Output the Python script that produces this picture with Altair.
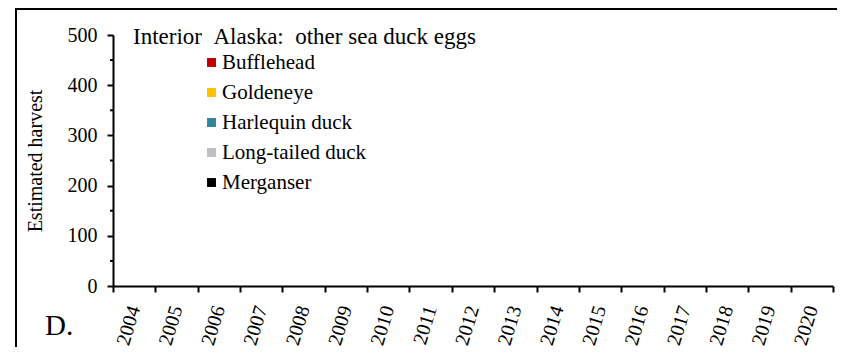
import altair as alt
import pandas as pd

years = [str(y) for y in range(2004, 2021)]
species = ["Bufflehead", "Goldeneye", "Harlequin duck", "Long-tailed duck", "Merganser"]
colors = ["#C00000", "#FFC000", "#31859C", "#BFBFBF", "#000000"]
# Estimated harvest: no eggs reported for any species/year (all zero)
harvest = {s: [0] * len(years) for s in species}
major_ticks = [0, 100, 200, 300, 400, 500]
minor_ticks = [50, 150, 250, 350, 450]

rows = []
for s in species:
    for y, v in zip(years, harvest[s]):
        rows.append({"Year": y, "Species": s, "Harvest": v})
df = pd.DataFrame(rows)

FONT = "'Liberation Serif', 'Times New Roman', serif"
W, H = 720, 251
NB = "\u00a0"

yscale = alt.Scale(domain=[0, 500])
yaxis = alt.Axis(values=major_ticks, labelFont=FONT,
                 labelFontSize=20, labelColor="black", tickSize=6,
                 tickWidth=2, tickColor="black", domainColor="black",
                 domainWidth=2, grid=False, titleFont=FONT,
                 titleFontSize=20, titleFontWeight="normal",
                 titleColor="black", titlePadding=22, labelPadding=10)

bars = alt.Chart(df).mark_bar().encode(
    x=alt.X("Year:N", sort=years, title=None,
            scale=alt.Scale(paddingInner=0, paddingOuter=0),
            axis=alt.Axis(labelAngle=287, labelFont=FONT, labelFontSize=20,
                          labelColor="black", tickBand="extent", tickSize=6,
                          tickColor="black", domainColor="black", domainWidth=2,
                          tickWidth=2, labelPadding=14, labelAlign="right",
                          labelBaseline="middle", grid=False)),
    y=alt.Y("Harvest:Q", stack="zero", scale=yscale,
            title="Estimated harvest", axis=yaxis),
    color=alt.Color("Species:N", sort=species,
                    scale=alt.Scale(domain=species, range=colors),
                    legend=alt.Legend(orient="none", legendX=88, legendY=17,
                                      title=None, symbolType="square",
                                      symbolSize=80, symbolStrokeWidth=0,
                                      labelFont=FONT, labelFontSize=21,
                                      labelColor="black", rowPadding=8,
                                      labelLimit=400,
                                      symbolOffset=0, labelOffset=0)),
)

minor = alt.Chart(pd.DataFrame({"v": minor_ticks})).mark_rule(
    color="black", strokeWidth=2
).encode(
    y=alt.Y("v:Q", scale=yscale, title="Estimated harvest", axis=yaxis),
    x=alt.value(-3), x2=alt.value(0),
)

title = alt.Chart(pd.DataFrame({"t": ["Interior" + NB + NB + "Alaska:" + NB + NB + "other sea duck eggs"]})).mark_text(
    font=FONT, fontSize=23, align="left", baseline="alphabetic", color="black"
).encode(text="t:N", x=alt.value(20), y=alt.value(9))

dlabel = alt.Chart(pd.DataFrame({"t": ["D."]})).mark_text(
    font=FONT, fontSize=29, align="left", baseline="alphabetic", color="black"
).encode(text="t:N", x=alt.value(-68), y=alt.value(300))

border = alt.Chart(pd.DataFrame({"a": [1]})).mark_rect(
    fill=None, stroke="black", strokeWidth=2
).encode(x=alt.value(-97), x2=alt.value(800), y=alt.value(-26), y2=alt.value(400))

chart = alt.layer(bars, minor, title, dlabel, border).properties(
    width=W, height=H,
    autosize=alt.AutoSizeParams(type="none"),
    padding={"left": 105, "top": 27, "right": 4, "bottom": 61},
).configure(
    background="white", font=FONT
).configure_axis(
    labelFont=FONT, titleFont=FONT, labelColor="black", titleColor="black"
).configure_view(stroke=None)

chart.save("out.html", embed_options={"renderer": "svg", "actions": False})
